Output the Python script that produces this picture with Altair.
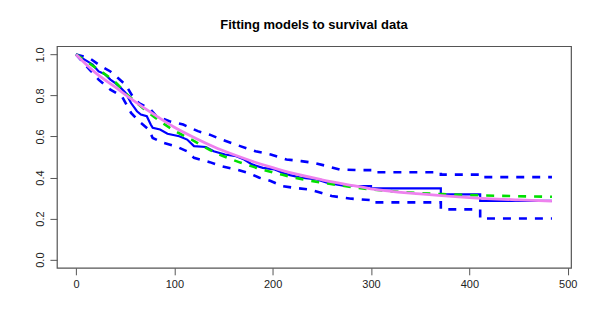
import altair as alt
import pandas as pd

# Kaplan-Meier estimate (corner points of the step function)
km_t = [0, 5, 11.7, 17, 23, 29, 35, 40, 44.7, 50.5, 53, 56, 62, 66, 72, 76, 78, 85.5, 93, 105, 113, 120,
        132, 140, 151.5, 163, 171, 179, 190, 202, 210, 217.6, 229, 245, 256, 272, 300, 300, 371, 371,
        411, 411, 484]
km_s = [1.0, 0.985, 0.966, 0.95, 0.917, 0.905, 0.877, 0.86, 0.841, 0.812, 0.79, 0.763, 0.723, 0.707, 0.699,
        0.658, 0.642, 0.634, 0.613, 0.601, 0.585, 0.553, 0.549, 0.528, 0.512, 0.504, 0.488, 0.464, 0.447,
        0.439, 0.423, 0.412, 0.399, 0.391, 0.374, 0.36, 0.358, 0.347, 0.347, 0.318, 0.318, 0.286, 0.286]

# Upper confidence limit
up_t = [0, 13.6, 24, 35, 42.7, 50.5, 57, 64, 76, 81.6, 95, 109, 124, 136, 148, 167, 182.6, 198, 214, 229,
        241, 256, 268, 287.5, 299, 299, 371, 371, 411, 411, 484]
up_s = [1.0, 0.982, 0.947, 0.917, 0.885, 0.852, 0.80, 0.763, 0.731, 0.699, 0.674, 0.658, 0.626, 0.609,
        0.585, 0.553, 0.528, 0.512, 0.488, 0.48, 0.472, 0.455, 0.439, 0.436, 0.436, 0.426, 0.426, 0.414,
        0.414, 0.402, 0.402]

# Lower confidence limit
lo_t = [0, 7.8, 15, 23, 35, 46.6, 50.5, 56, 64, 74, 78, 89, 101, 113, 120, 136, 148, 163, 175, 186.5,
        198, 210, 221.5, 237, 249, 260, 280, 299, 299, 371, 371, 411, 411, 484]
lo_s = [1.0, 0.958, 0.92, 0.877, 0.828, 0.796, 0.763, 0.715, 0.674, 0.634, 0.593, 0.569, 0.553, 0.528,
        0.496, 0.475, 0.455, 0.439, 0.423, 0.399, 0.383, 0.358, 0.35, 0.342, 0.326, 0.31, 0.297, 0.29,
        0.279, 0.279, 0.245, 0.245, 0.2, 0.2]

# Fitted model 1 (green dashed)
g_t = [0, 23, 39, 54, 70, 85.5, 101, 116.5, 140, 163, 186.5, 210, 233, 256, 280, 303, 334, 373, 412, 484]
g_s = [1.0, 0.925, 0.869, 0.796, 0.731, 0.674, 0.626, 0.587, 0.525, 0.48, 0.443, 0.413, 0.389, 0.371,
       0.354, 0.341, 0.329, 0.319, 0.313, 0.306]

# Fitted model 2 (violet solid)
v_t = [0, 20, 40, 60, 80, 100, 120, 140, 160, 180, 200, 220, 250, 280, 300, 350, 400, 450, 484]
v_s = [1.0, 0.91, 0.84, 0.77, 0.705, 0.645, 0.595, 0.55, 0.512, 0.478, 0.448, 0.421, 0.389, 0.362,
       0.345, 0.32, 0.302, 0.291, 0.285]

x_ticks = [0, 100, 200, 300, 400, 500]
y_ticks = [0.0, 0.2, 0.4, 0.6, 0.8, 1.0]

FONT = "Liberation Sans"
xs = alt.Scale(domain=[-19.4, 503.4], nice=False, zero=False)
ys = alt.Scale(domain=[-0.04, 1.04], nice=False, zero=False)

xax = alt.Axis(values=x_ticks, title=None, grid=False, domain=False, tickSize=7, tickColor="#555555",
               labelFont=FONT, labelFontSize=11, labelColor="#222222", labelPadding=4, labelFlush=False,
               labelOverlap=False)
yax = alt.Axis(values=y_ticks, title=None, grid=False, domain=False, tickSize=7, tickColor="#555555",
               labelFont=FONT, labelFontSize=11, labelColor="#222222", labelPadding=4, format=".1f",
               labelAngle=270, labelAlign="center", labelBaseline="bottom", labelFlush=False,
               labelOverlap=False)


def df(t, s):
    return pd.DataFrame({"t": t, "s": s, "i": list(range(len(t)))})


def enc(ch):
    return ch.encode(x=alt.X("t:Q", scale=xs, axis=xax), y=alt.Y("s:Q", scale=ys, axis=yax),
                     order="i:Q")


km = enc(alt.Chart(df(km_t, km_s)).mark_line(color="#0000FF", strokeWidth=2.2))
up = enc(alt.Chart(df(up_t, up_s)).mark_line(color="#0000FF", strokeWidth=2.6, strokeDash=[8, 8]))
lo = enc(alt.Chart(df(lo_t, lo_s)).mark_line(color="#0000FF", strokeWidth=2.6, strokeDash=[8, 8]))
gr = enc(alt.Chart(df(g_t, g_s)).mark_line(color="#00E000", strokeWidth=2.6, interpolate="monotone",
                                            strokeDash=[8, 8]))
vi = enc(alt.Chart(df(v_t, v_s)).mark_line(color="#EE82EE", strokeWidth=2.8, interpolate="monotone"))

chart = alt.layer(km, up, lo, gr, vi).properties(
    width=515,
    height=222,
    title=alt.Title("Fitting models to survival data", fontSize=13, font=FONT, fontWeight="bold",
                    anchor="middle", offset=4, color="#000000", baseline="alphabetic"),
    autosize=alt.AutoSizeParams(type="none"),
    padding={"left": 49, "top": 38, "right": 20, "bottom": 50},
    background="white",
).configure_view(stroke="#555555", strokeWidth=1.2)

chart.save("out.html", embed_options={"renderer": "svg", "actions": False})
